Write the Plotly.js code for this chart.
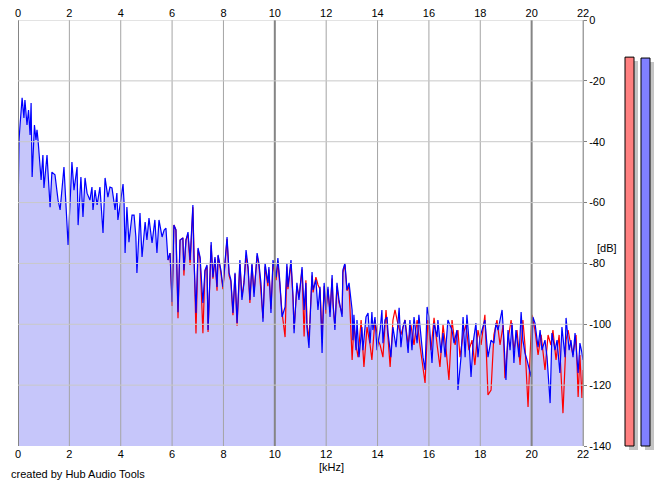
<!DOCTYPE html>
<html><head><meta charset="utf-8">
<script src="https://cdn.plot.ly/plotly-3.0.1.min.js"></script>
<style>html,body{margin:0;padding:0;background:#fff}#chart{width:665px;height:487px}</style>
</head><body><div id="chart"></div>
<script>
// ---- data ----
const blueKHz = [0.00,0.04,0.08,0.16,0.23,0.27,0.35,0.41,0.47,0.51,0.55,0.64,0.70,0.74,0.78,0.90,0.97,1.01,1.13,1.25,1.32,1.44,1.56,1.64,1.79,1.91,1.95,2.10,2.18,2.30,2.34,2.45,2.53,2.61,2.69,2.80,2.88,2.92,3.00,3.08,3.19,3.31,3.39,3.50,3.58,3.66,3.78,3.85,3.89,4.09,4.13,4.17,4.24,4.32,4.44,4.52,4.59,4.63,4.75,4.83,4.95,5.02,5.10,5.22,5.33,5.41,5.49,5.61,5.69,5.76,5.84,5.92,6.00,6.07,6.15,6.23,6.31,6.42,6.46,6.54,6.62,6.70,6.81,6.85,6.93,7.01,7.09,7.20,7.28,7.36,7.40,7.52,7.59,7.67,7.75,7.79,7.90,7.98,8.10,8.14,8.22,8.29,8.37,8.45,8.53,8.64,8.72,8.80,8.88,8.96,9.03,9.11,9.19,9.31,9.38,9.46,9.54,9.62,9.73,9.77,9.85,9.93,10.05,10.12,10.20,10.28,10.40,10.47,10.51,10.63,10.71,10.75,10.86,10.94,11.06,11.14,11.21,11.25,11.33,11.45,11.49,11.60,11.68,11.76,11.84,11.92,11.99,12.07,12.15,12.23,12.27,12.34,12.42,12.50,12.62,12.65,12.73,12.81,12.89,13.01,13.04,13.08,13.16,13.20,13.28,13.39,13.43,13.55,13.63,13.71,13.78,13.82,13.90,13.98,14.10,14.17,14.21,14.29,14.37,14.41,14.52,14.60,14.72,14.80,14.84,14.91,14.99,15.07,15.19,15.26,15.34,15.42,15.54,15.61,15.69,15.77,15.85,15.93,16.00,16.08,16.12,16.20,16.32,16.35,16.47,16.55,16.63,16.74,16.90,16.98,17.09,17.13,17.25,17.33,17.41,17.48,17.56,17.64,17.72,17.83,17.91,17.99,18.07,18.18,18.30,18.42,18.53,18.61,18.69,18.81,18.85,18.92,19.00,19.08,19.16,19.24,19.31,19.39,19.51,19.59,19.66,19.74,19.82,19.98,20.05,20.13,20.25,20.33,20.40,20.52,20.60,20.72,20.79,20.91,20.99,21.10,21.18,21.30,21.34,21.46,21.53,21.61,21.69,21.81,21.88,21.96,22.00];
const blueDB = [-64.7,-39.4,-34.5,-25.6,-32.2,-26.3,-34.5,-29.6,-37.8,-27.3,-51.6,-34.5,-39.4,-36.1,-39.4,-52.6,-44.4,-55.2,-44.4,-61.5,-50.0,-50.9,-59.2,-62.4,-48.3,-66.4,-73.9,-46.7,-55.9,-48.3,-67.4,-51.6,-64.7,-51.9,-56.9,-59.2,-54.9,-62.4,-55.9,-60.8,-54.9,-70.0,-51.9,-58.2,-54.9,-55.2,-62.4,-56.9,-65.7,-53.9,-60.1,-76.6,-61.5,-73.0,-64.1,-64.1,-71.3,-83.1,-63.4,-77.9,-66.4,-72.3,-65.1,-73.3,-65.7,-76.6,-65.7,-71.3,-69.0,-68.4,-78.9,-76.6,-92.7,-67.4,-69.0,-96.0,-72.3,-71.6,-82.2,-72.3,-69.7,-78.9,-60.8,-77.9,-96.3,-74.9,-77.9,-93.0,-82.2,-80.5,-101.9,-73.0,-84.5,-77.9,-87.7,-77.2,-82.2,-87.7,-74.6,-71.3,-83.1,-85.4,-96.3,-83.1,-99.6,-78.9,-92.0,-86.4,-75.6,-81.2,-92.0,-79.9,-91.0,-76.6,-79.9,-86.4,-99.2,-79.9,-86.4,-81.2,-96.3,-78.9,-84.5,-78.2,-86.4,-97.6,-94.3,-79.9,-87.7,-78.9,-91.0,-102.9,-86.4,-92.0,-81.2,-95.3,-86.4,-100.9,-107.8,-82.8,-88.7,-85.4,-95.3,-87.7,-109.4,-86.4,-95.3,-87.7,-97.6,-83.8,-93.0,-101.9,-86.4,-92.0,-97.6,-82.2,-79.9,-88.7,-86.4,-95.3,-105.2,-96.9,-108.5,-98.6,-110.8,-100.9,-108.5,-97.6,-96.3,-106.2,-96.0,-101.9,-97.6,-108.5,-101.9,-95.3,-106.2,-98.6,-97.6,-102.9,-110.8,-100.9,-107.5,-97.6,-94.6,-107.5,-100.9,-98.6,-109.4,-98.6,-108.5,-97.6,-106.2,-96.9,-105.2,-110.8,-115.0,-94.3,-97.6,-106.2,-112.7,-99.6,-104.2,-98.6,-109.4,-102.9,-110.8,-98.6,-101.9,-106.2,-101.9,-121.6,-110.8,-97.6,-110.8,-96.9,-105.2,-117.3,-106.2,-99.6,-110.8,-104.2,-101.9,-98.6,-110.8,-105.2,-106.2,-99.6,-101.9,-97.6,-95.3,-105.2,-118.3,-101.9,-108.5,-99.6,-112.7,-101.9,-110.8,-96.0,-105.2,-109.4,-111.7,-117.3,-97.6,-99.6,-107.5,-101.9,-108.5,-105.2,-110.8,-125.9,-102.9,-108.5,-105.2,-116.0,-100.9,-110.8,-97.9,-108.5,-105.2,-110.8,-102.9,-116.0,-106.2,-109.4,-111.7];
const redKHz = [5.84,5.92,6.00,6.07,6.15,6.23,6.31,6.42,6.46,6.54,6.62,6.70,6.81,6.85,6.93,7.01,7.09,7.20,7.28,7.36,7.40,7.52,7.59,7.67,7.75,7.79,7.90,7.98,8.10,8.14,8.22,8.29,8.37,8.45,8.53,8.64,8.72,8.80,8.88,8.96,9.03,9.11,9.19,9.31,9.38,9.46,9.54,9.62,9.73,9.77,9.85,9.93,10.05,10.12,10.20,10.28,10.40,10.47,10.51,10.63,10.71,10.75,10.86,10.94,11.06,11.14,11.21,11.25,11.33,11.45,11.49,11.60,11.68,11.76,11.84,11.92,11.99,12.07,12.15,12.23,12.27,12.34,12.42,12.50,12.62,12.65,12.73,12.81,12.89,13.01,13.08,13.16,13.24,13.36,13.47,13.59,13.71,13.78,13.90,14.02,14.10,14.21,14.33,14.41,14.49,14.60,14.68,14.80,14.91,15.07,15.19,15.30,15.42,15.54,15.65,15.85,15.96,16.08,16.20,16.32,16.43,16.55,16.67,16.78,16.90,17.02,17.13,17.21,17.33,17.44,17.56,17.68,17.79,17.91,18.03,18.18,18.30,18.42,18.53,18.65,18.77,18.89,18.96,19.08,19.20,19.31,19.43,19.55,19.66,19.74,19.86,19.94,20.01,20.13,20.25,20.37,20.52,20.64,20.75,20.83,20.95,21.07,21.22,21.34,21.42,21.49,21.61,21.73,21.81,21.88,21.96,22.00];
const redDB = [-78.9,-76.6,-94.0,-67.4,-69.0,-98.0,-72.3,-71.6,-84.0,-72.3,-70.5,-80.5,-61.5,-79.0,-103.0,-75.5,-78.5,-102.9,-82.5,-81.0,-102.5,-74.0,-85.0,-78.5,-89.0,-77.5,-83.0,-88.5,-75.5,-72.0,-84.0,-86.0,-97.0,-83.5,-100.5,-80.0,-91.0,-86.0,-77.5,-82.0,-93.0,-80.5,-89.5,-77.5,-80.5,-88.0,-98.0,-81.0,-87.5,-82.0,-95.0,-80.0,-85.5,-79.5,-87.0,-96.0,-104.2,-81.0,-88.5,-80.0,-92.0,-101.5,-87.5,-91.0,-82.0,-104.0,-85.5,-99.5,-105.0,-84.0,-89.5,-84.5,-87.0,-88.5,-104.0,-87.5,-96.5,-88.5,-96.0,-85.0,-94.0,-100.5,-87.5,-93.0,-96.5,-83.0,-80.5,-89.0,-87.5,-111.7,-100.2,-106.8,-110.8,-98.6,-114.0,-100.9,-106.8,-111.7,-98.6,-105.2,-106.8,-110.8,-95.3,-105.2,-114.0,-98.6,-95.3,-100.2,-103.5,-98.6,-106.8,-100.2,-106.8,-98.6,-106.8,-119.3,-98.6,-108.5,-97.9,-106.8,-114.0,-100.2,-108.5,-118.3,-98.6,-106.8,-101.9,-110.8,-103.5,-100.2,-108.5,-105.2,-113.4,-101.9,-106.8,-96.9,-123.2,-121.6,-103.5,-98.6,-106.8,-100.2,-117.7,-105.2,-98.6,-108.5,-101.9,-113.4,-98.6,-106.8,-127.2,-110.1,-96.9,-101.9,-110.1,-103.5,-115.0,-103.5,-106.8,-101.9,-111.7,-103.5,-129.2,-105.2,-101.9,-105.2,-110.1,-103.5,-123.9,-110.1,-124.2,-115.0];
const xTicks = [0,2,4,6,8,10,12,14,16,18,20,22];
const yTicks = [0,-20,-40,-60,-80,-100,-120,-140];
const yTickText = ['0','-20','-40','-60','-80','-100','-120','-140'];
const meterLevels = [-12.2,-12.5];
const FLOOR = -140;

// ---- geometry / styling ----
const W=665, H=487, M={l:18, r:10, t:20, b:30};
const pw = W-M.l-M.r, ph = H-M.t-M.b;
const xDom = [0, 565/pw];
const yDom = [11/ph, 1];
const dbPerPx = 140/426;
const FONT = {family:'"Liberation Sans", Arial, sans-serif', size:11, color:'#000'};

const traces = [
  {x:[0,22], y:[FLOOR,FLOOR], xaxis:'x', yaxis:'y', mode:'lines', line:{width:0}, hoverinfo:'skip', showlegend:false},
  {x:blueKHz, y:blueDB, xaxis:'x', yaxis:'y', mode:'lines', line:{width:0}, fill:'tonexty', fillcolor:'#c6c6fa', hoverinfo:'skip', showlegend:false},
  {x:redKHz, y:redDB, xaxis:'x', yaxis:'y', mode:'lines', line:{color:'#ff0000', width:1.2}, showlegend:false},
  {x:blueKHz, y:blueDB, xaxis:'x', yaxis:'y', mode:'lines', line:{color:'#0000ff', width:1.2}, showlegend:false},
  {x:[0], y:[FLOOR], xaxis:'x2', yaxis:'y', mode:'markers', marker:{opacity:0}, hoverinfo:'skip', showlegend:false},
  // meter shadows
  {type:'bar', x:[13.5,29.5], y:meterLevels.map(v=>v-FLOOR), base:FLOOR-4*dbPerPx, width:9,
   xaxis:'x3', yaxis:'y2', marker:{color:'#c4c4c4', line:{width:0}}, hoverinfo:'skip', showlegend:false},
  // meters
  {type:'bar', x:[9.5,25.5], y:meterLevels.map(v=>v-FLOOR), base:FLOOR, width:9,
   xaxis:'x3', yaxis:'y2', marker:{color:['#ff8080','#8080ff'], line:{color:'#000', width:1}}, showlegend:false}
];

const shapes = [];
xTicks.forEach(v => {
  const major = v % 10 === 0;
  shapes.push({type:'line', xref:'x', yref:'y', x0:v, x1:v, y0:FLOOR, y1:0, layer:'above',
    line:{color: major ? '#858585' : '#a4a4a4', width: major ? 2 : 1}});
});
yTicks.forEach(v => {
  if (v === FLOOR) return;
  shapes.push({type:'line', xref:'x', yref:'y', x0:0, x1:22, y0:v, y1:v, layer:'above',
    line:{color:'#c8c8c8', width:1}});
});

const axX = {range:[0,22], tickvals:xTicks, ticktext:xTicks.map(String), showgrid:false, zeroline:false,
  showline:false, ticks:'', tickfont:FONT, fixedrange:true};

const layout = {
  width:W, height:H, margin:M, paper_bgcolor:'#fff', plot_bgcolor:'#fff', barmode:'overlay',
  showlegend:false, font:FONT,
  xaxis: Object.assign({}, axX, {domain:xDom, anchor:'y', side:'bottom'}),
  xaxis2: Object.assign({}, axX, {domain:xDom, anchor:'y', side:'top', overlaying:'x'}),
  yaxis: {domain:yDom, range:[FLOOR,0], anchor:'x', side:'right', tickvals:yTicks, ticktext:yTickText,
    ticks:'outside', ticklen:3, tickcolor:'#808080', showline:true, linecolor:'#a0a0a0', linewidth:1,
    showgrid:false, zeroline:false, tickfont:FONT, fixedrange:true},
  xaxis3: {domain:[(620-M.l)/pw, 1], range:[0,35], anchor:'y2', visible:false, fixedrange:true},
  yaxis2: {domain:[0,1], range:[FLOOR-11*dbPerPx, 0], anchor:'x3', visible:false, fixedrange:true},
  shapes: shapes,
  annotations: [
    {text:'[kHz]', xref:'paper', yref:'paper', x:(331-M.l)/pw, y:(M.t+ph-467)/ph, xanchor:'center', yanchor:'middle', showarrow:false, font:FONT},
    {text:'[dB]', xref:'paper', yref:'paper', x:(607-M.l)/pw, y:(M.t+ph-248)/ph, xanchor:'center', yanchor:'middle', showarrow:false, font:FONT},
    {text:'created by Hub Audio Tools', xref:'paper', yref:'paper', x:(9-M.l)/pw, y:(M.t+ph-474)/ph, xanchor:'left', yanchor:'middle', showarrow:false, font:FONT}
  ]
};

Plotly.newPlot('chart', traces, layout, {displayModeBar:false, staticPlot:true});
</script>
</body></html>
